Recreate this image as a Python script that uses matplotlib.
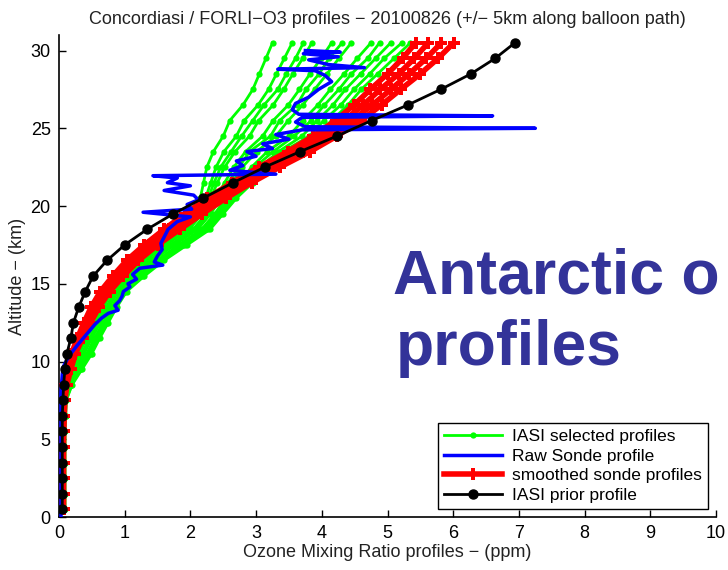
import numpy as np
import matplotlib
matplotlib.use('Agg')
import matplotlib.pyplot as plt

plt.rcParams['font.family'] = ['Liberation Sans', 'DejaVu Sans']

# Nivells d'altitud (km) dels perfils IASI i sonda llisa
alt = [0.5, 1.5, 2.5, 3.5, 4.5, 5.5, 6.5, 7.5, 8.5, 9.5, 10.5, 11.5, 12.5, 13.5, 14.5, 15.5,
       16.5, 17.5, 18.5, 19.5, 20.5, 21.5, 22.5, 23.5, 24.5, 25.5, 26.5, 27.5, 28.5, 29.5, 30.5]

# IASI selected profiles (ppm)
g1 = [0.04, 0.04, 0.04, 0.04, 0.04, 0.04, 0.05, 0.06, 0.09, 0.15, 0.22, 0.35, 0.46, 0.60, 0.72, 0.92,
      1.20, 1.50, 1.85, 2.05, 2.15, 2.20, 2.25, 2.35, 2.50, 2.60, 2.80, 2.95, 3.05, 3.15, 3.25]
g2 = [0.05, 0.05, 0.05, 0.05, 0.05, 0.05, 0.06, 0.07, 0.11, 0.18, 0.26, 0.39, 0.50, 0.64, 0.76, 0.97,
      1.26, 1.56, 1.91, 2.11, 2.23, 2.31, 2.39, 2.51, 2.70, 2.82, 3.03, 3.19, 3.31, 3.43, 3.55]
g3 = [0.05, 0.05, 0.05, 0.05, 0.05, 0.05, 0.06, 0.07, 0.12, 0.20, 0.28, 0.41, 0.52, 0.66, 0.79, 1.00,
      1.29, 1.60, 1.95, 2.15, 2.27, 2.36, 2.46, 2.62, 2.78, 2.95, 3.12, 3.33, 3.46, 3.60, 3.72]
g4 = [0.05, 0.05, 0.05, 0.05, 0.05, 0.05, 0.06, 0.07, 0.12, 0.21, 0.30, 0.43, 0.54, 0.68, 0.81, 1.03,
      1.31, 1.63, 1.98, 2.18, 2.31, 2.41, 2.52, 2.68, 2.90, 3.04, 3.26, 3.42, 3.56, 3.71, 3.85]
g5 = [0.06, 0.06, 0.06, 0.06, 0.06, 0.06, 0.07, 0.08, 0.14, 0.24, 0.34, 0.47, 0.58, 0.72, 0.85, 1.08,
      1.37, 1.69, 2.04, 2.24, 2.39, 2.52, 2.66, 2.84, 3.10, 3.26, 3.49, 3.66, 3.82, 3.99, 4.15]
g6 = [0.07, 0.07, 0.07, 0.07, 0.07, 0.07, 0.07, 0.08, 0.15, 0.25, 0.36, 0.49, 0.60, 0.74, 0.88, 1.11,
      1.40, 1.72, 2.08, 2.27, 2.43, 2.57, 2.74, 2.90, 3.22, 3.36, 3.62, 3.76, 3.96, 4.11, 4.31]
g7 = [0.07, 0.07, 0.07, 0.07, 0.07, 0.07, 0.08, 0.09, 0.15, 0.26, 0.38, 0.50, 0.63, 0.76, 0.90, 1.14,
      1.43, 1.76, 2.11, 2.31, 2.46, 2.63, 2.79, 3.01, 3.30, 3.49, 3.71, 3.89, 4.08, 4.26, 4.45]
g8 = [0.08, 0.08, 0.08, 0.08, 0.08, 0.08, 0.09, 0.10, 0.17, 0.29, 0.42, 0.54, 0.67, 0.80, 0.94, 1.19,
      1.49, 1.82, 2.17, 2.37, 2.54, 2.74, 2.93, 3.17, 3.50, 3.71, 3.94, 4.13, 4.34, 4.54, 4.75]
g9 = [0.08, 0.08, 0.08, 0.08, 0.08, 0.08, 0.09, 0.10, 0.18, 0.30, 0.44, 0.56, 0.69, 0.82, 0.96, 1.22,
      1.52, 1.86, 2.20, 2.41, 2.58, 2.80, 2.98, 3.26, 3.58, 3.84, 4.04, 4.26, 4.45, 4.70, 4.88]
g10 = [0.08, 0.08, 0.08, 0.08, 0.08, 0.08, 0.09, 0.10, 0.18, 0.32, 0.46, 0.58, 0.71, 0.84, 0.99, 1.25,
       1.54, 1.89, 2.24, 2.44, 2.62, 2.84, 3.06, 3.34, 3.70, 3.93, 4.17, 4.36, 4.59, 4.82, 5.05]
g11 = [0.09, 0.09, 0.09, 0.09, 0.09, 0.09, 0.10, 0.11, 0.19, 0.33, 0.48, 0.60, 0.73, 0.86, 1.01, 1.28,
       1.57, 1.92, 2.27, 2.47, 2.66, 2.90, 3.14, 3.41, 3.81, 4.03, 4.29, 4.49, 4.73, 4.95, 5.22]
g12 = [0.09, 0.09, 0.09, 0.09, 0.09, 0.09, 0.10, 0.11, 0.20, 0.35, 0.50, 0.62, 0.75, 0.88, 1.03, 1.30,
       1.60, 1.95, 2.30, 2.50, 2.70, 2.95, 3.20, 3.50, 3.90, 4.15, 4.40, 4.60, 4.85, 5.10, 5.35]
green_profiles = [g1, g2, g3, g4, g5, g6, g7, g8, g9, g10, g11, g12]

# smoothed sonde profiles (ppm)
r1 = [0.05, 0.05, 0.05, 0.05, 0.05, 0.05, 0.06, 0.07, 0.08, 0.12, 0.19, 0.28, 0.38, 0.49, 0.63, 0.82,
      1.03, 1.30, 1.60, 1.92, 2.26, 2.63, 3.04, 3.48, 3.87, 4.21, 4.49, 4.74, 5.00, 5.23, 5.43]
r2 = [0.06, 0.06, 0.06, 0.06, 0.06, 0.06, 0.07, 0.08, 0.09, 0.14, 0.21, 0.31, 0.41, 0.53, 0.68, 0.87,
      1.09, 1.37, 1.68, 2.01, 2.35, 2.73, 3.15, 3.59, 3.99, 4.34, 4.63, 4.89, 5.17, 5.41, 5.62]
r3 = [0.06, 0.06, 0.06, 0.06, 0.06, 0.07, 0.07, 0.08, 0.11, 0.16, 0.23, 0.33, 0.45, 0.57, 0.72, 0.93,
      1.15, 1.43, 1.76, 2.09, 2.45, 2.83, 3.25, 3.71, 4.11, 4.46, 4.77, 5.05, 5.33, 5.59, 5.82]
r4 = [0.07, 0.07, 0.07, 0.07, 0.07, 0.07, 0.08, 0.09, 0.12, 0.18, 0.25, 0.36, 0.48, 0.61, 0.77, 0.98,
      1.21, 1.50, 1.84, 2.18, 2.54, 2.93, 3.36, 3.82, 4.23, 4.59, 4.91, 5.20, 5.50, 5.77, 6.01]
red_profiles = [r1, r2, r3, r4]

# IASI prior profile (ppm)
prior = [0.05, 0.05, 0.05, 0.05, 0.05, 0.05, 0.05, 0.06, 0.07, 0.09, 0.12, 0.18, 0.22, 0.30, 0.40, 0.52,
         0.73, 1.00, 1.34, 1.74, 2.19, 2.65, 3.13, 3.67, 4.23, 4.76, 5.31, 5.81, 6.27, 6.64, 6.94]

# Raw sonde profile
blue_alt = [0.0, 1.0, 2.0, 3.0, 4.0, 5.0, 6.0, 7.0, 8.0, 8.6, 9.2, 9.7, 10.1, 10.5, 11.0, 11.5,
            12.0, 12.4, 12.8, 13.1, 13.3, 13.6, 13.9, 14.2, 14.5, 14.8, 15.0, 15.3, 15.6, 16.0,
            16.2, 16.4, 16.8, 17.2, 17.6, 18.0, 18.5, 19.0, 19.3, 19.6, 19.8, 20.1, 20.4, 20.7,
            21.0, 21.3, 21.5, 21.8, 21.95, 22.05, 22.3, 22.6, 22.9, 23.2, 23.5, 23.7, 24.0, 24.3,
            24.6, 24.9, 25.0, 25.1, 25.4, 25.7, 25.8, 25.9, 26.2, 26.6, 27.0, 27.5, 28.0, 28.4,
            28.7, 28.8, 28.9, 29.1, 29.4, 29.6, 29.8, 29.9, 30.0]
blue_x = [0.03, 0.03, 0.03, 0.03, 0.03, 0.03, 0.03, 0.03, 0.03, 0.04, 0.05, 0.07, 0.12, 0.18, 0.27, 0.37,
          0.47, 0.55, 0.65, 0.75, 0.90, 0.85, 0.92, 0.96, 0.98, 1.08, 1.05, 1.18, 1.12, 1.23,
          1.58, 1.45, 1.50, 1.57, 1.55, 1.60, 1.66, 1.80, 2.00, 1.28, 2.02, 1.95, 2.12, 2.05,
          1.60, 2.00, 1.65, 1.80, 1.43, 3.30, 2.60, 2.80, 2.70, 3.00, 2.86, 3.25, 3.10, 3.50,
          3.30, 3.70, 7.25, 3.75, 3.60, 3.70, 6.60, 3.65, 3.55, 3.60, 3.80, 3.95, 4.15, 4.05,
          3.90, 3.33, 4.65, 4.10, 3.80, 4.25, 3.72, 4.28, 3.75]

fig = plt.figure(figsize=(7.28, 5.70), dpi=100)
ax = fig.add_axes([59/728, 1-517/570, 657/728, (517-35)/570])

for i, g in enumerate(green_profiles):
    ax.plot(g, alt, '-', color=(0, 1, 0), lw=2, marker='o', ms=4.5, mew=0,
            label='IASI selected profiles' if i == 0 else None, zorder=2)
for i, r in enumerate(red_profiles):
    ax.plot(r, alt, '-', color=(1, 0, 0), lw=4, marker='P', ms=8, mew=0,
            label='smoothed sonde profiles' if i == 0 else None, zorder=3)
ax.plot(blue_x, blue_alt, '-', color=(0, 0, 1), lw=2.5, label='Raw Sonde profile', zorder=4)
ax.plot(prior, alt, '-', color='k', lw=2, marker='o', ms=6.5, label='IASI prior profile', zorder=5)

ax.set_xlim(0, 10)
ax.set_ylim(0, 31)
ax.set_xticks(np.arange(0, 11, 1))
ax.set_yticks(np.arange(0, 31, 5))
ax.tick_params(direction='in', length=5, width=1, labelsize=13, colors='k')
ax.tick_params(axis='x', pad=6)
ax.tick_params(axis='y', pad=6)
ax.spines['top'].set_visible(False)
ax.spines['right'].set_visible(False)
ax.spines['left'].set_linewidth(1.2)
ax.spines['bottom'].set_linewidth(1.2)

ax.set_title('Concordiasi / FORLI\u2212O3 profiles \u2212 20100826 (+/\u2212 5km along balloon path)',
             fontsize=13, pad=8, color='#222222')
ax.set_xlabel('Ozone Mixing Ratio profiles \u2212 (ppm)', fontsize=13, labelpad=1, color='#222222')
ax.set_ylabel('Altitude \u2212 (km)', fontsize=13, labelpad=3, color='#222222')

h, l = ax.get_legend_handles_labels()
order = [l.index('IASI selected profiles'), l.index('Raw Sonde profile'),
         l.index('smoothed sonde profiles'), l.index('IASI prior profile')]
leg = ax.legend([h[i] for i in order], [l[i] for i in order], loc='lower right',
                bbox_to_anchor=(0.988, 0.017), borderaxespad=0, fontsize=12.5,
                fancybox=False, framealpha=1, edgecolor='k', handlelength=3.3,
                labelspacing=0.25, borderpad=0.35, handletextpad=0.6)
leg.get_frame().set_linewidth(1)

fig.text(393/728, 1-293/570, 'Antarctic o', fontsize=45, fontweight='bold',
         color='#333399', va='baseline', ha='left')
fig.text(396/728, 1-365/570, 'profiles', fontsize=45, fontweight='bold',
         color='#333399', va='baseline', ha='left')

fig.savefig('out.png', dpi=100)
